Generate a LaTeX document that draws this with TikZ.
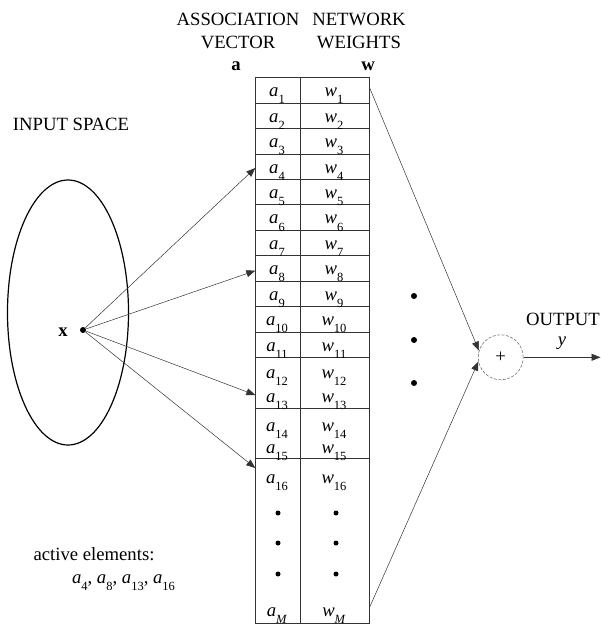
\documentclass[tikz,border=0pt]{standalone}
\usepackage{fontspec}
\setmainfont{Liberation Serif}
\usetikzlibrary{arrows.meta}
\newcommand{\subsc}[1]{\raisebox{-0.38em}{\fontsize{12.5}{12.5}\selectfont #1}}
\newcommand{\av}[1]{\textit{a}\subsc{#1}}
\newcommand{\wv}[1]{\textit{w}\subsc{#1}}
\begin{document}
\begin{tikzpicture}[x=1pt,y=-1pt,
  font=\fontsize{18.7}{23.4}\selectfont,
  conn/.style={draw=black!80, line width=0.5pt, -{Triangle[length=9pt,width=7pt]}},
  grid/.style={draw=black!80, line width=0.7pt},
  lbl/.style={inner sep=0pt, anchor=base},
  bigdot/.style={circle, fill=black, inner sep=0pt, minimum size=6pt},
  tdot/.style={circle, fill=black, inner sep=0pt, minimum size=5pt}]
\useasboundingbox (0,0) rectangle (601,624);
% headers
\node[lbl] (hA1) at (238,25) {ASSOCIATION};
\node[lbl] (hA2) at (238,48.5) {VECTOR};
\node[lbl] (hW1) at (359,25) {NETWORK};
\node[lbl] (hW2) at (359,48.5) {WEIGHTS};
\node[lbl] (va) at (236,70) {\textbf{a}};
\node[lbl] (vw) at (368,70) {\textbf{w}};
\node[lbl] (inp) at (71,130) {INPUT SPACE};
% input space
\draw[line width=1.2pt] (68,312.5) ellipse [x radius=60.5pt, y radius=132.5pt];
\node[bigdot] (xdot) at (83,330) {};
\node[lbl] (xl) at (63,336) {\textbf{x}};
% table
\draw[grid] (255.3,77.5) rectangle (369.3,623.5);
\draw[grid] (300.7,77.5) -- (300.7,623.5);
\foreach \k in {1,...,11} {
  \draw[grid] (255.3,77.5+25.45*\k) -- (369.3,77.5+25.45*\k);
  \node[lbl] (a\k) at (277,71.275+25.45*\k) {\av{\k}};
  \node[lbl] (w\k) at (334,71.275+25.45*\k) {\wv{\k}};
}
\draw[grid] (255.3,408.3) -- (369.3,408.3);
\draw[grid] (255.3,458.3) -- (369.3,458.3);
\node[lbl] (a12) at (277,378) {\av{12}};
\node[lbl] (w12) at (334,378) {\wv{12}};
\node[lbl] (a13) at (277,402.5) {\av{13}};
\node[lbl] (w13) at (334,402.5) {\wv{13}};
\node[lbl] (a14) at (277,431) {\av{14}};
\node[lbl] (w14) at (334,431) {\wv{14}};
\node[lbl] (a15) at (277,453) {\av{15}};
\node[lbl] (w15) at (334,453) {\wv{15}};
\node[lbl] (a16) at (277,483) {\av{16}};
\node[lbl] (w16) at (334,483) {\wv{16}};
\node[lbl] (aM) at (277,616) {\av{\textit{M}}};
\node[lbl] (wM) at (334,616) {\wv{\textit{M}}};
\foreach \y [count=\i] in {513,543,574} {
  \node[tdot] (da\i) at (278,\y) {};
  \node[tdot] (dw\i) at (336,\y) {};
}
% arrow targets at table edge
\coordinate (t4) at (255.3,168);
\coordinate (t8) at (255.3,270.7);
\coordinate (t13) at (255.3,395);
\coordinate (t16) at (255.3,468);
\draw[conn] (xdot) -- (t4);
\draw[conn] (xdot) -- (t8);
\draw[conn] (xdot) -- (t13);
\draw[conn] (xdot) -- (t16);
% right dots
\node[bigdot] (r1) at (414,296) {};
\node[bigdot] (r2) at (414,340) {};
\node[bigdot] (r3) at (414,383) {};
% summation
\node[circle, draw=black!55, line width=0.6pt, dash pattern=on 3pt off 1.5pt,
  minimum size=45pt, inner sep=0pt] (sum) at (500.7,357.3) {+};
\coordinate (w1r) at (369.3,87);
\coordinate (wMr) at (369.3,608);
\draw[conn] (w1r) -- (sum.163);
\draw[conn] (wMr) -- (sum.191);
\coordinate (out) at (600.5,357.3);
\draw[conn] (sum.east) -- (out);
\node[lbl] (outl) at (563,325) {OUTPUT};
\node[lbl] (yl) at (562,345) {\textit{y}};
% legend
\node[lbl] (act1) at (94,560) {active elements:};
\node[lbl] (act2) at (123.5,583) {\av{4}, \av{8}, \av{13}, \av{16}};
\end{tikzpicture}
\end{document}
